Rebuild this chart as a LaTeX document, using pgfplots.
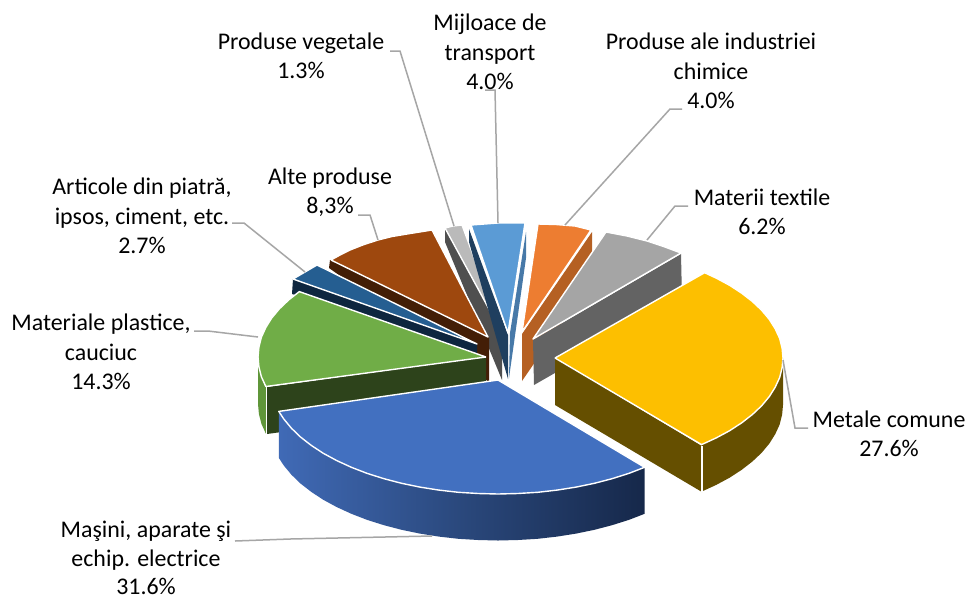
\documentclass[border=0pt]{standalone}
\usepackage{fontspec}
\setmainfont{Carlito}
\usepackage{pgfplots}
\pgfplotsset{compat=1.18}
\definecolor{lead}{HTML}{A6A6A6}
\tikzset{lab/.style={align=center,text=black,inner sep=0pt,font=\fontsize{23.9}{29.5}\selectfont},
  top/.style={draw=white,line width=1.4pt,line join=round},
  wall/.style={draw=none}}
\begin{document}
\begin{tikzpicture}
\begin{axis}[scale only axis,width=968pt,height=598pt,xmin=0,xmax=968,ymin=0,ymax=598,y dir=reverse,axis lines=none,ticks=none,clip=true]
\addplot[draw=none,fill=white] coordinates {(0,0)(968,0)(968,598)(0,598)};
% Produse vegetale 1.3
\addplot[wall,fill={rgb,255:red,79;green,79;blue,79}] coordinates {(445,228)(502,333)(502,380)(445,242)};
\addplot[top,fill={rgb,255:red,186;green,186;blue,186}] coordinates {(445,228)(453,226)(462,225)(502,333)(445,228)};
% Mijloace de transport 4.0
\addplot[wall,fill={rgb,255:red,71;green,121;blue,168}] coordinates {(526,232)(510,333)(509,378)(526,258)};
\addplot[wall,fill={rgb,255:red,31;green,63;blue,95}] coordinates {(469,229)(508,335)(508,379)(469,242)};
\addplot[top,fill={rgb,255:red,91;green,155;blue,213}] coordinates {(471,225)(498,223)(525,223)(508,333)(471,225)};
% Produse ale industriei chimice 4.0
\addplot[wall,fill={rgb,255:red,181;green,96;blue,35}] coordinates {(592,232)(522,334)(522,381)(592,279)};
\addplot[top,fill={rgb,255:red,237;green,125;blue,49}] coordinates {(538,224)(556,224.5)(575,226)(591,230)(522,332)(538,224)};
% Materii textile 6.2
\addplot[wall,fill={rgb,255:red,99;green,99;blue,99}] coordinates {(533,340)(681,254)(682,300)(534,385)};
\addplot[top,fill={rgb,255:red,165;green,165;blue,165}] coordinates {(606,232)(627,236)(647,241)(665,247)(681,253)(533,339)(606,232)};
% Alte produse 8.3
\addplot[wall,fill={rgb,255:red,67;green,30;blue,6}] coordinates {(330,260)(489,337)(489,382)(329,268)};
\addplot[top,fill={rgb,255:red,158;green,72;blue,14}] coordinates {(331,260)(340,255)(350,250)(364,244.5)(378,240)(392,236.5)(407,234)(432,230)(488,337)(331,260)};
% Articole din piatra 2.7
\addplot[wall,fill={rgb,255:red,14;green,38;blue,63}] coordinates {(293,279)(477,344)(477,353)(292,294)};
\addplot[top,fill={rgb,255:red,37;green,94;blue,145}] coordinates {(293,279)(305,272)(317,265)(477,344)(293,279)};
% Materiale plastice 14.3
\addplot[wall,fill={rgb,255:red,95;green,150;blue,57}] coordinates {(258,357)(258.9,366.9)(261.4,376.8)(265.8,386.5)(265.8,433.5)(261.4,423.8)(258.9,413.9)(258,404)};
\addplot[wall,fill={rgb,255:red,45;green,67;blue,27}] coordinates {(486,357)(267,387)(267,434)(486,404)};
\addplot[top,fill={rgb,255:red,112;green,173;blue,71}] coordinates {(486,357)(265.8,386.5)(261.4,376.8)(258.9,366.9)(258,357)(258.9,347.1)(261.4,337.2)(265.8,327.5)(271.7,318)(279.4,308.8)(288.6,300)(299.3,291.6)(486,357)};
% Metale comune 27.6
\addplot[wall,fill={rgb,255:red,101;green,79;blue,0}] coordinates {(555,358)(702,446)(702,492)(555,405)};
\addplot[wall,fill={rgb,255:red,101;green,79;blue,0}] coordinates {(783,358)(782.1,367.8)(779.6,377.7)(775.2,387.2)(769.3,396.6)(761.6,405.8)(752.4,414.5)(741.7,422.8)(729.6,430.7)(716.2,437.9)(701.6,444.6)(701.6,491.6)(716.2,484.9)(729.6,477.7)(741.7,469.8)(752.4,461.5)(761.6,452.8)(769.3,443.6)(775.2,434.2)(779.6,424.7)(782.1,414.8)(783,405)};
\addplot[draw=white,line width=1.2pt] coordinates {(702,446)(702,492)};
\addplot[top,fill={rgb,255:red,253;green,191;blue,0}] coordinates {(555,358)(704.6,272.7)(716.2,278.1)(729.6,285.3)(741.7,293.2)(752.4,301.5)(761.6,310.2)(769.3,319.4)(775.2,328.8)(779.6,338.3)(782.1,348.2)(783,358)(782.1,367.8)(779.6,377.7)(775.2,387.2)(769.3,396.6)(761.6,405.8)(752.4,414.5)(741.7,422.8)(729.6,430.7)(716.2,437.9)(701.6,444.6)(555,358)};
% Masini, aparate 31.6
\addplot[draw=none,left color={rgb,255:red,64;green,106;blue,182},right color={rgb,255:red,22;green,40;blue,74},middle color={rgb,255:red,42;green,72;blue,124}] coordinates {(278.8,411.4)(283.8,419)(291.4,428.2)(300.5,437)(311.3,445.4)(323.3,453.3)(336.8,460.6)(351.4,467.3)(367.2,473.4)(384,478.7)(401.6,483.3)(420,487.1)(439,490.1)(458.4,492.3)(478.2,493.5)(498,494)(517.8,493.5)(537.6,492.3)(557,490.1)(576,487.1)(594.4,483.3)(612,478.7)(628.8,473.4)(644.6,467.3)(644.6,513.8)(628.8,519.9)(612,525.2)(594.4,529.8)(576,533.6)(557,536.6)(537.6,538.8)(517.8,540)(498,540.5)(478.2,540)(458.4,538.8)(439,536.6)(420,533.6)(401.6,529.8)(384,525.2)(367.2,519.9)(351.4,513.8)(336.8,507.1)(323.3,499.8)(311.3,491.9)(300.5,483.5)(291.4,474.7)(283.8,465.5)(278.8,457.9)};
\addplot[top,fill={rgb,255:red,66;green,112;blue,192}] coordinates {(498,380)(644.6,467.3)(628.8,473.4)(612,478.7)(594.4,483.3)(576,487.1)(557,490.1)(537.6,492.3)(517.8,493.5)(498,494)(478.2,493.5)(458.4,492.3)(439,490.1)(420,487.1)(401.6,483.3)(384,478.7)(367.2,473.4)(351.4,467.3)(336.8,460.6)(323.3,453.3)(311.3,445.4)(300.5,437)(291.4,428.2)(283.8,419)(278.8,411.4)(498,380)};
% leader lines
\addplot[lead,line width=1.5pt] coordinates {(390,51)(400,51)(454,226)};
\addplot[lead,line width=1.5pt] coordinates {(485,90)(495,90)(498,223)};
\addplot[lead,line width=1.5pt] coordinates {(682,109)(670,109)(565,225)};
\addplot[lead,line width=1.5pt] coordinates {(688,206)(675,206)(647,240)};
\addplot[lead,line width=1.5pt] coordinates {(232,223)(244,223)(305,272)};
\addplot[lead,line width=1.5pt] coordinates {(194,331)(208,331)(258,337)};
\addplot[lead,line width=1.5pt] coordinates {(358,215)(370,215)(378,240)};
\addplot[lead,line width=1.5pt] coordinates {(783,360)(795,428)(808,428)};
\addplot[lead,line width=1.5pt] coordinates {(235,541)(290,539)(432,536)};
% labels
\node[lab] at (axis cs:301,56) {Produse vegetale\\1.3\%};
\node[lab] at (axis cs:490,52) {Mijloace de\\transport\\4.0\%};
\node[lab] at (axis cs:711,71) {Produse ale industriei\\chimice\\4.0\%};
\node[lab] at (axis cs:762,212) {Materii textile\\6.2\%};
\node[lab] at (axis cs:889,434) {Metale comune\\27.6\%};
\node[lab,font=\fontsize{23.9}{28.3}\selectfont] at (axis cs:146,558) {Maşini, aparate şi\\echip. electrice\\31.6\%};
\node[lab] at (axis cs:101,352) {Materiale plastice,\\cauciuc\\14.3\%};
\node[lab] at (axis cs:142,216) {Articole din piatră,\\ipsos, ciment, etc.\\2.7\%};
\node[lab] at (axis cs:330,192) {Alte produse\\8,3\%};
\end{axis}
\end{tikzpicture}
\end{document}
